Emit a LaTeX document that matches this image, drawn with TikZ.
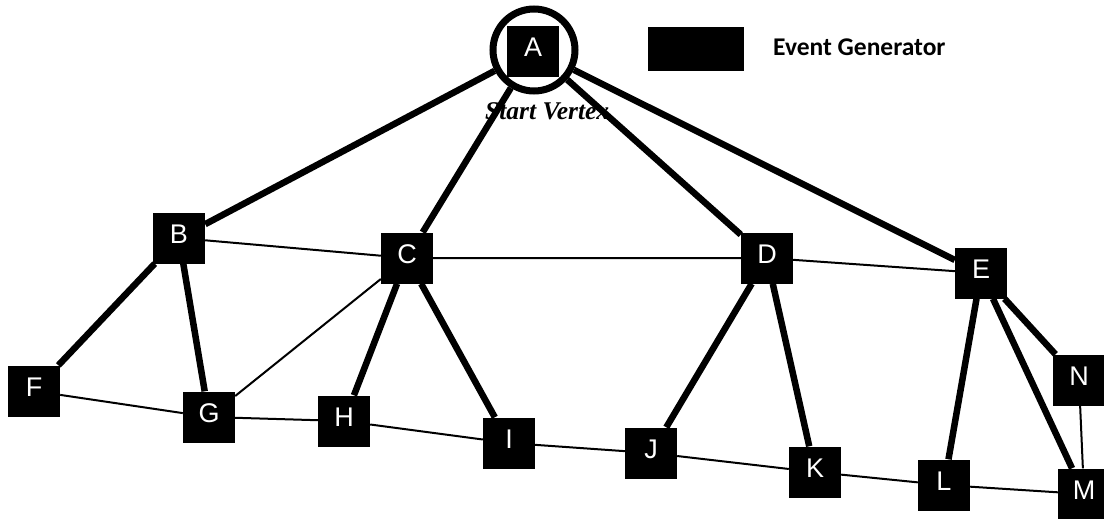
\documentclass[tikz,border=0pt]{standalone}
\usepackage{fontspec}
\setmainfont{Liberation Serif}
\newfontfamily\labelfont{Liberation Sans}
\newfontfamily\legendfont{Carlito}
\pgfdeclarelayer{captions}
\pgfdeclarelayer{edges}
\pgfsetlayers{captions,edges,main}
\begin{document}
\begin{tikzpicture}[x=1pt,y=-1pt,
  vtx/.style={fill=black, text=white, minimum width=52pt, minimum height=51pt,
    inner sep=0pt, font=\labelfont\fontsize{27}{27}\selectfont,
    text height=18pt, text depth=8pt},
  heavy/.style={line width=6.5pt},
  light/.style={line width=2pt}]
\useasboundingbox (0,0) rectangle (1104,519);

% vertices
\node[vtx] (A) at (533,52) {A};
\node[vtx] (B) at (179,238) {B};
\node[vtx] (C) at (407,258) {C};
\node[vtx] (D) at (767,258) {D};
\node[vtx] (E) at (981,273) {E};
\node[vtx] (F) at (34,391) {F};
\node[vtx] (G) at (209,417) {G};
\node[vtx] (H) at (344,421) {H};
\node[vtx] (I) at (509,443) {I};
\node[vtx] (J) at (651,453) {J};
\node[vtx] (K) at (815,472) {K};
\node[vtx] (L) at (944,485) {L};
\node[vtx] (M) at (1084,494) {M};
\node[vtx] (N) at (1079,380) {N};

% ring marking the start vertex
\node[draw, circle, line width=7pt, minimum size=82pt, inner sep=0pt] (ring) at (534,50) {};

% legend
\node[fill=black, minimum width=96pt, minimum height=44pt, inner sep=0pt] (key) at (696,49) {};
\node[anchor=base west, inner sep=0pt, font=\legendfont\bfseries\fontsize{25.5}{26}\selectfont] (keytext) at (773,56) {Event Generator};

\begin{pgfonlayer}{captions}
\node[anchor=base west, inner sep=0pt, font=\bfseries\itshape\fontsize{25.5}{26}\selectfont] (caption) at (485,120) {Start Vertex};
\end{pgfonlayer}

\begin{pgfonlayer}{edges}
% tree edges
\draw[heavy] (ring) -- (B);
\draw[heavy] (ring) -- (C);
\draw[heavy] (ring) -- (D);
\draw[heavy] (ring) -- (E);
\draw[heavy] (B) -- (F);
\draw[heavy] (B) -- (G);
\draw[heavy] (C) -- (H);
\draw[heavy] (C) -- (I);
\draw[heavy] (D) -- (J);
\draw[heavy] (D) -- (K);
\draw[heavy] (E) -- (L);
\draw[heavy] (E) -- (M);
\draw[heavy] (E) -- (N);
% cross edges
\draw[light] (B) -- (C) -- (D) -- (E);
\draw[light] (C) -- (G);
\draw[light] (F) -- (G) -- (H) -- (I) -- (J) -- (K) -- (L) -- (M);
\draw[light] (N) -- (M);
\end{pgfonlayer}
\end{tikzpicture}
\end{document}
